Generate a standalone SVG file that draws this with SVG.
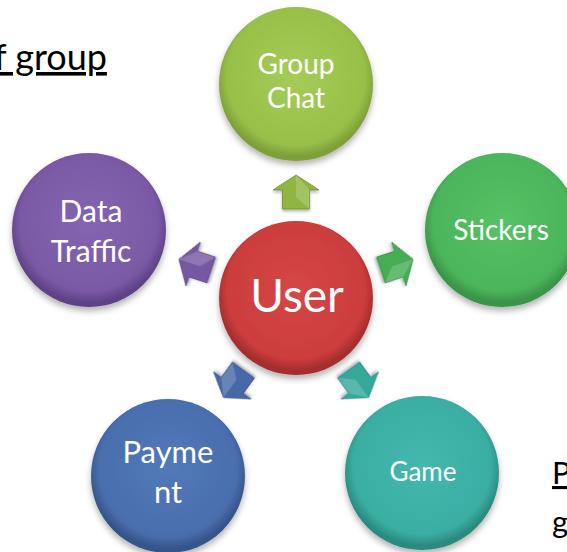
<svg xmlns="http://www.w3.org/2000/svg" width="567" height="552" viewBox="0 0 567 552">
<defs>
<style>
.lbl{font-family:Lato,"Open Sans","Liberation Sans",sans-serif;fill:#fff;text-anchor:middle}
.doc{font-family:Lato,"Open Sans","Liberation Sans",sans-serif;fill:#000;text-decoration:underline}
.node circle{filter:url(#sh)}
.arr{filter:url(#sh2)}
</style>
<filter id="sh" x="-20%" y="-20%" width="140%" height="150%"><feDropShadow dx="0" dy="4" stdDeviation="3" flood-color="#000" flood-opacity="0.3"/></filter>
<filter id="sh2" x="-30%" y="-30%" width="160%" height="160%"><feDropShadow dx="0" dy="2" stdDeviation="1.5" flood-color="#000" flood-opacity="0.3"/></filter>
<radialGradient id="gGC" cx="50%" cy="45%" r="52%"><stop offset="0" stop-color="#a6cc58"/><stop offset="0.86" stop-color="#98c049"/><stop offset="1" stop-color="#7ea039"/></radialGradient>
<radialGradient id="gST" cx="50%" cy="45%" r="52%"><stop offset="0" stop-color="#56c166"/><stop offset="0.86" stop-color="#4bb55b"/><stop offset="1" stop-color="#3a9449"/></radialGradient>
<radialGradient id="gDT" cx="50%" cy="45%" r="52%"><stop offset="0" stop-color="#8564b0"/><stop offset="0.86" stop-color="#7a59a5"/><stop offset="1" stop-color="#5f4385"/></radialGradient>
<radialGradient id="gUS" cx="50%" cy="45%" r="52%"><stop offset="0" stop-color="#d64646"/><stop offset="0.86" stop-color="#cc3d3d"/><stop offset="1" stop-color="#a32d2d"/></radialGradient>
<radialGradient id="gPA" cx="50%" cy="45%" r="52%"><stop offset="0" stop-color="#5279b8"/><stop offset="0.86" stop-color="#4a6eae"/><stop offset="1" stop-color="#36548a"/></radialGradient>
<radialGradient id="gGA" cx="50%" cy="45%" r="52%"><stop offset="0" stop-color="#44b8ac"/><stop offset="0.86" stop-color="#3aaea2"/><stop offset="1" stop-color="#2a8a80"/></radialGradient>
<polygon id="ah" points="0,-18 23,-3 13.5,-3 13.5,16 -13.5,16 -13.5,-3 -23,-3"/>
<polygon id="af" points="0,-18 13.5,-3 13.5,16 0,4" fill="#fff" fill-opacity="0.18"/>
</defs>
<rect width="567" height="552" fill="#fff"/>

<text class="doc" x="-6" y="70" font-size="36">f group</text>
<text class="doc" x="552" y="484" font-size="31">P</text>
<text class="doc" x="552" y="533" font-size="31">g</text>

<g id="connectors">
<g class="arr" transform="translate(296,193)"><use href="#ah" fill="#8fb640" stroke="#6f8f2e" stroke-width="0.8"/><use href="#af"/></g>
<g class="arr" transform="translate(396,265) rotate(71.7)"><use href="#ah" fill="#45ae54" stroke="#338a40" stroke-width="0.8"/><use href="#af"/></g>
<g class="arr" transform="translate(196,265) rotate(-71.8)"><use href="#ah" fill="#7558a2" stroke="#5a4180" stroke-width="0.8"/><use href="#af"/></g>
<g class="arr" transform="translate(234,383) rotate(216)"><use href="#ah" fill="#4669a8" stroke="#344f82" stroke-width="0.8"/><use href="#af"/></g>
<g class="arr" transform="translate(358,383) rotate(144.1)"><use href="#ah" fill="#36a89c" stroke="#28857b" stroke-width="0.8"/><use href="#af"/></g>
</g>

<g id="groupchat" class="node"><circle cx="296" cy="84" r="77" fill="url(#gGC)"/><text class="lbl" x="296" y="74" font-size="28">Group</text><text class="lbl" x="296" y="108" font-size="28">Chat</text></g>
<g id="stickers" class="node"><circle cx="502" cy="230" r="77" fill="url(#gST)"/><text class="lbl" x="501" y="240" font-size="28">Stickers</text></g>
<g id="datatraffic" class="node"><circle cx="89" cy="230" r="77" fill="url(#gDT)"/><text class="lbl" x="91" y="222" font-size="30">Data</text><text class="lbl" x="91" y="262" font-size="30">Traffic</text></g>
<g id="user" class="node"><circle cx="296" cy="298" r="77" fill="url(#gUS)"/><text class="lbl" x="297" y="312" font-size="46">User</text></g>
<g id="payment" class="node"><circle cx="168" cy="476" r="77" fill="url(#gPA)"/><text class="lbl" x="168" y="463" font-size="31">Payme</text><text class="lbl" x="168" y="503" font-size="31">nt</text></g>
<g id="game" class="node"><circle cx="422" cy="473" r="77" fill="url(#gGA)"/><text class="lbl" x="423" y="481" font-size="26">Game</text></g>
</svg>
